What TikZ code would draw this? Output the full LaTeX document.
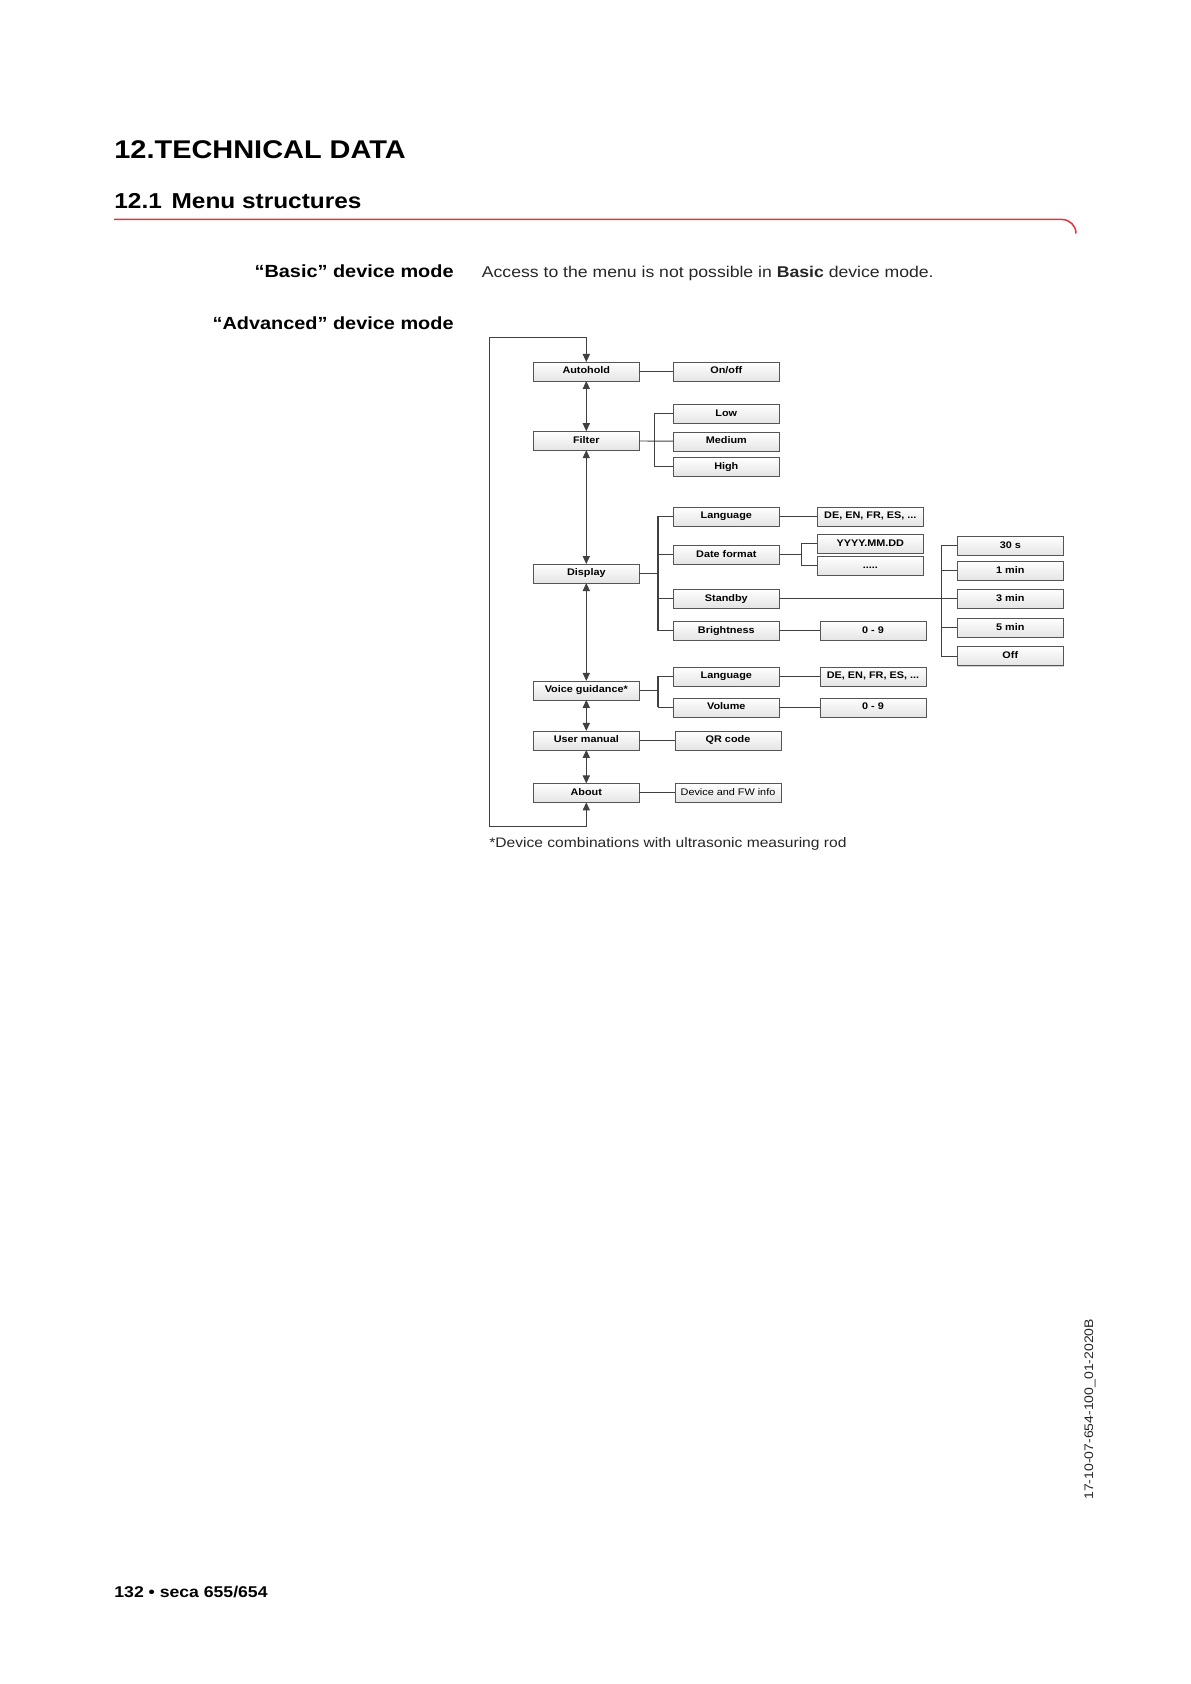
\documentclass[tikz,border=0pt]{standalone}
\usepackage{fontspec}
\setmainfont{Liberation Sans}[FakeStretch=1.13]
\usepackage{xcolor}
\definecolor{rulered}{HTML}{E0343F}
\definecolor{linedark}{HTML}{404040}
\definecolor{boxedge}{HTML}{555555}
\definecolor{boxshade}{HTML}{E4E4E4}
\definecolor{bodygray}{HTML}{262626}
\usepackage{tikz}
\usetikzlibrary{arrows.meta,positioning,shadows}

\newcommand{\titlefont}{\fontsize{12.8pt}{15pt}\selectfont\bfseries}
\newcommand{\sectionfont}{\fontsize{10.8pt}{13pt}\selectfont\bfseries}
\newcommand{\labelfont}{\fontsize{8.8pt}{10pt}\selectfont\bfseries}
\newcommand{\bodyfont}{\fontsize{7.8pt}{9pt}\selectfont\color{bodygray}}
\newcommand{\notefont}{\fontsize{6.9pt}{8pt}\selectfont\color{bodygray}}
\newcommand{\footfont}{\fontsize{7.8pt}{9pt}\selectfont\bfseries}
\newcommand{\codefont}{\fontsize{6.2pt}{7pt}\selectfont\color{bodygray}}
\newcommand{\boxfont}{\fontsize{4.8pt}{5.5pt}\selectfont\bfseries}
\newcommand{\boxfontreg}{\fontsize{4.8pt}{5.5pt}\selectfont}

\begin{document}
\begin{tikzpicture}[
  x=0.5pt,y=-0.5pt,
  box/.style={draw=boxedge,line width=0.4pt,top color=white,bottom color=boxshade,
    minimum width=53pt,minimum height=9.5pt,inner sep=0pt,outer sep=0pt,text height=3.45pt,text depth=1pt,
    font=\boxfont,drop shadow={shadow xshift=0.5pt,shadow yshift=-0.5pt,opacity=0.3,fill=black!60}},
  link/.style={draw=linedark,line width=0.45pt},
  fork/.style={draw=linedark,line width=0.9pt},
  nav/.style={{Triangle[length=4pt,width=3.6pt]}-{Triangle[length=4pt,width=3.6pt]},draw=linedark,line width=0.45pt},
  heading/.style={inner sep=0pt,anchor=base west},
  rule/.style={draw=rulered,line width=0.75pt,rounded corners=7pt}
]
\useasboundingbox (0,0) rectangle (1190,1684);

% page heading
\node[heading,font=\titlefont] (title) at (114,158.3) {12.TECHNICAL DATA};
\node[heading,font=\sectionfont] (section) at (114,208.6) {12.1\hspace{0.45em}Menu structures};
\draw[rule] (114,219.5) -- (1076,219.5) -- (1076,233.5);

\node[heading,anchor=base east,font=\labelfont] (basiclabel) at (454,277.7) {“Basic” device mode};
\node[heading,font=\bodyfont] (basictext) at (481.5,277.7) {Access to the menu is not possible in \textbf{Basic} device mode.};
\node[heading,anchor=base east,font=\labelfont] (advlabel) at (454,329.8) {“Advanced” device mode};

% main menu
\node[box] (autohold) at (586.3,371.5) {Autohold};
\node[box,below=25.1pt of autohold] (filter) {Filter};
\node[box,below=56.9pt of filter] (display) {Display};
\node[box,below=48.95pt of display] (voice) {Voice guidance*};
\node[box,below=15.5pt of voice] (usermanual) {User manual};
\node[box,below=16.75pt of usermanual] (about) {About};

% sub menus
\node[box,right=17pt of autohold] (onoff) {On/off};
\node[box,below=11.7pt of onoff] (low) {Low};
\node[box,below=4.3pt of low] (medium) {Medium};
\node[box,below=3.2pt of medium] (high) {High};
\node[box,below=15.25pt of high] (displang) {Language};
\node[box,below=9.6pt of displang] (datefmt) {Date format};
\node[box,below=12.5pt of datefmt] (standby) {Standby};
\node[box,below=6.55pt of standby] (brightness) {Brightness};
\node[box,below=13.35pt of brightness] (voicelang) {Language};
\node[box,below=6pt of voicelang] (volume) {Volume};
\node[box,right=17.85pt of usermanual] (qrcode) {QR code};
\node[box,font=\boxfontreg,right=17.85pt of about] (fwinfo) {Device and FW info};

% values
\node[box,right=19pt of displang] (langlist) {DE, EN, FR, ES, ...};
\node[box,below=4.25pt of langlist] (yyyy) {YYYY.MM.DD};
\node[box,below=1.5pt of yyyy] (datemore) {.....};
\node[box,right=20.35pt of brightness] (brightrange) {0 - 9};
\node[box,right=20.35pt of voicelang] (voicelist) {DE, EN, FR, ES, ...};
\node[box,right=20.35pt of volume] (volrange) {0 - 9};

% standby times
\node[box,right=89pt of standby] (min3) {3 min};
\node[box,above=4.45pt of min3] (min1) {1 min};
\node[box,above=3pt of min1] (sec30) {30 s};
\node[box,below=5.05pt of min3] (min5) {5 min};
\node[box,below=4.75pt of min5] (off) {Off};

% navigation
\draw[nav] (autohold) -- (filter);
\draw[nav] (filter) -- (display);
\draw[nav] (display) -- (voice);
\draw[nav] (voice) -- (usermanual);
\draw[nav] (usermanual) -- (about);
\coordinate (loopbottom) at ([yshift=-12.15pt]about.south);
\coordinate (looptop) at ([yshift=12.2pt]autohold.north);
\coordinate (loopleft) at ([xshift=-48.5pt]looptop);
\draw[nav] (about.south) -- (loopbottom) -| (loopleft) -- (looptop) -- (autohold.north);

% branches
\draw[link] (autohold) -- (onoff);
\coordinate (filterfork) at ([xshift=7.5pt]filter.east);
\draw[link] (filter) -- (medium);
\draw[link] (low.west) -| (filterfork) |- (high.west);

\coordinate (displayfork) at ([xshift=9.2pt]display.east);
\draw[fork] (display.east) -- (displayfork);
\draw[fork] (displayfork |- displang.west) -- (displayfork |- brightness.west);
\draw[link] (displayfork |- displang.west) -- (displang.west);
\draw[link] (displayfork |- datefmt.west) -- (datefmt.west);
\draw[link] (displayfork |- standby.west) -- (standby.west);
\draw[link] (displayfork |- brightness.west) -- (brightness.west);

\draw[link] (displang) -- (langlist);
\coordinate (datefork) at ([xshift=10.85pt]datefmt.east);
\draw[link] (datefmt.east) -- (datefork);
\draw[link] (yyyy.west) -| (datefork) |- (datemore.west);
\draw[link] (brightness) -- (brightrange);

\draw[link] (standby) -- (min3);
\coordinate (standbyfork) at ([xshift=-7.8pt]min3.west);
\draw[link] (sec30.west) -| (standbyfork) |- (off.west);
\draw[link] (standbyfork |- min1.west) -- (min1.west);
\draw[link] (standbyfork |- min5.west) -- (min5.west);

\coordinate (voicefork) at ([xshift=9.2pt]voice.east);
\draw[fork] (voice.east) -- (voicefork);
\draw[fork] (voicefork |- voicelang.west) -- (voicefork |- volume.west);
\draw[link] (voicefork |- voicelang.west) -- (voicelang.west);
\draw[link] (voicefork |- volume.west) -- (volume.west);
\draw[link] (voicelang) -- (voicelist);
\draw[link] (volume) -- (volrange);

\draw[link] (usermanual) -- (qrcode);
\draw[link] (about) -- (fwinfo);

% notes
\node[heading,font=\notefont] (footnote) at (489,847.3) {*Device combinations with ultrasonic measuring rod};
\node[heading,font=\footfont] (pagefoot) at (114,1597.3) {132 • seca 655/654};
\node[heading,rotate=90,font=\codefont] (doccode) at (1093,1500) {17-10-07-654-100\_01-2020B};
\end{tikzpicture}
\end{document}
